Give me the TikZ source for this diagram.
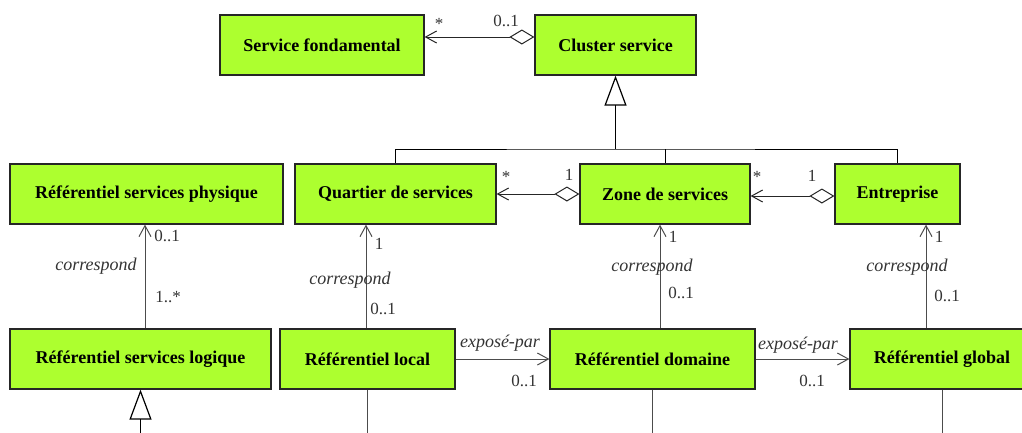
\documentclass[tikz,border=0pt]{standalone}
\usepackage{fontspec}
\setmainfont{Liberation Serif}
\usetikzlibrary{arrows.meta,positioning}
\definecolor{boxgreen}{HTML}{ADFF2F}

\begin{document}
\begin{tikzpicture}[x=1pt,y=-1pt,
    classbox/.style={draw=black!85, line width=1.2pt, fill=boxgreen, minimum height=60pt, inner sep=0pt, font=\fontsize{18}{20}\selectfont\bfseries},
    assoc/.style={draw=black!70, line width=1pt, -{Straight Barb[length=11pt,width=12pt]}},
    aggr/.style={draw=black!85, line width=1pt, {Diamond[open,length=25pt,width=15pt]}-{Straight Barb[length=11pt,width=12pt]}},
    genline/.style={draw=black, line width=1pt},
    gentip/.style={line width=1.6pt, -{Triangle[open,length=30pt,width=22pt,line width=1.2pt]}},
    mult/.style={text=black!80, font=\fontsize{17}{19}\selectfont, inner sep=0pt},
    role/.style={text=black!80, font=\fontsize{18}{20}\selectfont\itshape, inner sep=0pt}]

\useasboundingbox (0,0) rectangle (1022,432);
\clip (0,0) rectangle (1022,432);

% classes
\node[classbox, minimum width=204pt] (sf) at (322,45) {Service fondamental};
\node[classbox, minimum width=161pt] (cs) at (615.5,45) {Cluster service};
\node[classbox, minimum width=273pt] (rsp) at (146.5,194) {Référentiel services physique};
\node[classbox, minimum width=201pt] (qs) at (395.5,194) {Quartier de services};
\node[classbox, minimum width=170pt] (zs) at (665,194) {Zone de services};
\node[classbox, minimum width=125pt] (ent) at (897.5,194) {Entreprise};
\node[classbox, minimum width=261pt] (rsl) at (140.5,359) {Référentiel services logique};
\node[classbox, minimum width=175pt] (rl) at (367.5,359) {Référentiel local};
\node[classbox, minimum width=205pt] (rd) at (652.5,359) {Référentiel domaine};
\node[classbox, minimum width=184pt] (rg) at (942,359) {Référentiel global};

% aggregations
\draw[aggr] ([yshift=8pt]cs.west) -- ([yshift=8pt]cs.west -| sf.east);
\draw[aggr] (zs.west) -- (zs.west -| qs.east);
\draw[aggr] ([yshift=-2pt]ent.west) -- ([yshift=-2pt]ent.west -| zs.east);

% associations
\draw[assoc] ([xshift=4.5pt]rsl.north) -- ([xshift=4.5pt]rsl.north |- rsp.south);
\draw[assoc] ([xshift=-1.5pt]rl.north) -- ([xshift=-1.5pt]rl.north |- qs.south);
\draw[assoc] ([xshift=7.5pt]rd.north) -- ([xshift=7.5pt]rd.north |- zs.south);
\draw[assoc] ([xshift=-16pt]rg.north) -- ([xshift=-16pt]rg.north |- ent.south);
\draw[assoc] (rl.east) -- (rd.west);
\draw[assoc] (rd.east) -- (rg.west);

% generalization
\coordinate (fork) at (615.5,149);
\draw[genline] (qs.north) |- (fork) -| (ent.north);
\draw[genline] (zs.north) -- (zs.north |- fork);
\draw[genline, gentip] (fork) -- (cs.south);
\coordinate (rslbase) at (140.5,445);
\draw[genline, gentip] (rslbase) -- (rsl.south);

% lines leaving the picture
\coordinate (rlbase) at (367.5,445);
\coordinate (rdbase) at (652.5,445);
\coordinate (rgbase) at (942,445);
\draw[draw=black!70, line width=1pt] (rl.south) -- (rlbase);
\draw[draw=black!70, line width=1pt] (rd.south) -- (rdbase);
\draw[draw=black!70, line width=1pt] (rg.south) -- (rgbase);

% multiplicities and roles
\node[mult] (ma1) at (439,24) {*};
\node[mult] (ma2) at (506,21) {0..1};
\node[mult] (mb1) at (506,177) {*};
\node[mult] (mb2) at (569,175) {1};
\node[mult] (mc1) at (757,177) {*};
\node[mult] (mc2) at (812,176) {1};
\node[mult] (md1) at (167,236) {0..1};
\node[role] (cor1) at (96,266) {correspond};
\node[mult] (md2) at (168,297) {1..*};
\node[mult] (me1) at (379,244) {1};
\node[role] (cor2) at (350,280) {correspond};
\node[mult] (me2) at (383,309) {0..1};
\node[mult] (mf1) at (673,237) {1};
\node[role] (cor3) at (652,267) {correspond};
\node[mult] (mf2) at (681,293) {0..1};
\node[mult] (mg1) at (939,237) {1};
\node[role] (cor4) at (907,267) {correspond};
\node[mult] (mg2) at (947,296) {0..1};
\node[role] (exp1) at (500,343) {exposé-par};
\node[mult] (mh1) at (524,381) {0..1};
\node[role] (exp2) at (798,345) {exposé-par};
\node[mult] (mi1) at (812,381) {0..1};
\end{tikzpicture}
\end{document}
